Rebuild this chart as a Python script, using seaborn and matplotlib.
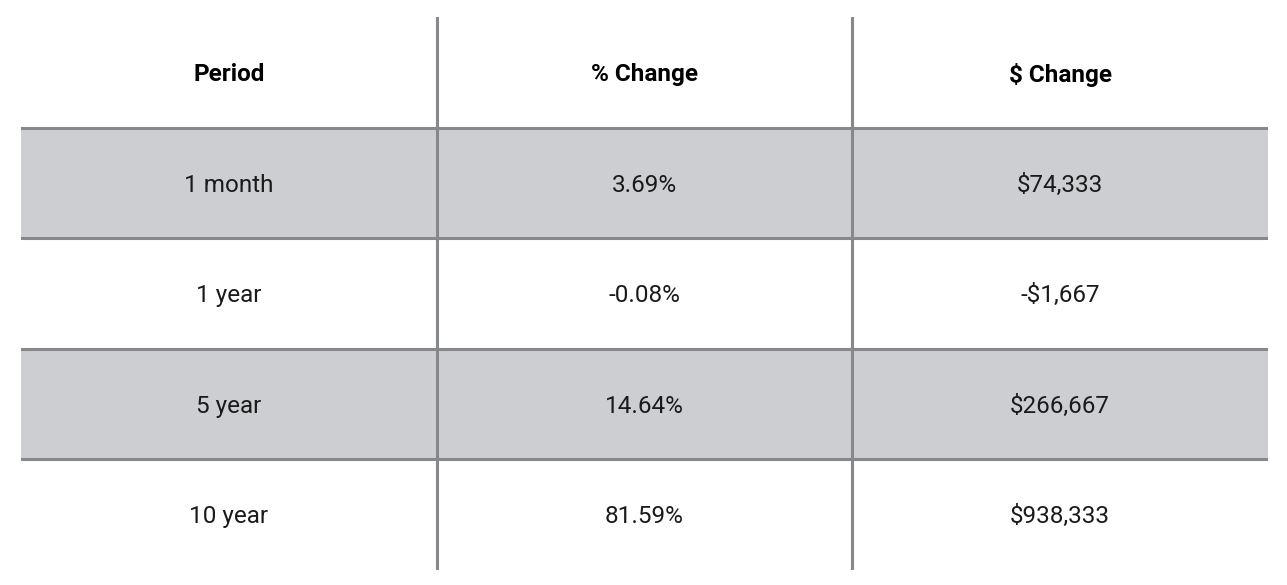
import numpy as np
import pandas as pd
import matplotlib
matplotlib.use("Agg")
import matplotlib.pyplot as plt
from matplotlib.colors import ListedColormap
import seaborn as sns

columns = ["Period", "% Change", "$ Change"]
periods = ["1 month", "1 year", "5 year", "10 year"]
pct_change = ["3.69%", "-0.08%", "14.64%", "81.59%"]
usd_change = ["$74,333", "-$1,667", "$266,667", "$938,333"]
shaded = [1, 0, 1, 0]

sns.set_style("white")
plt.rcParams["font.family"] = ["Roboto", "DejaVu Sans"]

labels = np.array([columns] + [[p, c, d] for p, c, d in zip(periods, pct_change, usd_change)])
fill = np.array([[0] * 3] + [[s] * 3 for s in shaded])
df = pd.DataFrame(fill, columns=columns)

fig = plt.figure(figsize=(12.87, 5.85), dpi=100)
ax = fig.add_axes([21 / 1287, 1 - 570 / 585, 1247 / 1287, 553 / 585])
sns.heatmap(df, ax=ax, cmap=ListedColormap(["#ffffff", "#cdced2"]), vmin=0, vmax=1,
            cbar=False, annot=labels, fmt="", linewidths=0,
            annot_kws={"fontsize": 17.5, "color": "#1a1a1a"})
for t in ax.texts[:3]:
    t.set_fontweight("bold")
    t.set_color("black")
# nudge text slightly down to sit like the original
for t in ax.texts:
    x, y = t.get_position()
    t.set_position((x, y + 0.02))

line_color = "#86888c"
for y in range(1, len(labels)):
    ax.axhline(y, color=line_color, lw=2.2)
for x in range(1, len(columns)):
    ax.axvline(x, color=line_color, lw=2.2)

ax.set_xticks([])
ax.set_yticks([])
ax.set_xlabel("")
ax.set_ylabel("")
for s in ax.spines.values():
    s.set_visible(False)

fig.savefig("out.png", dpi=100)
